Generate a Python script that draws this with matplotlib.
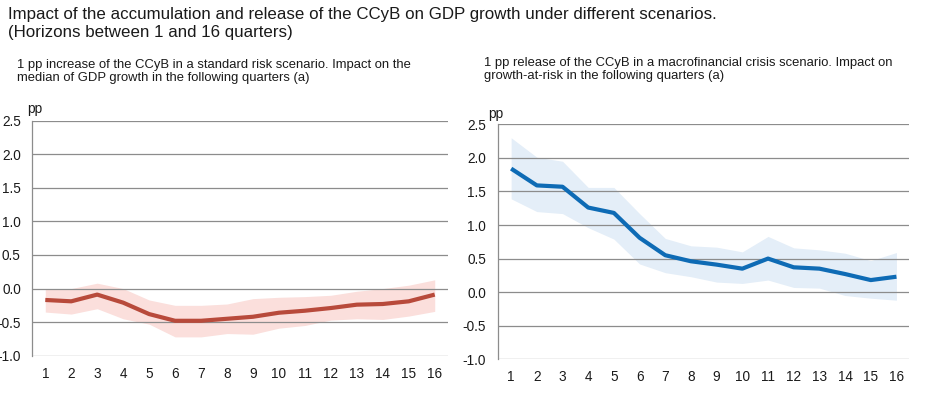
import matplotlib
matplotlib.use("Agg")
import matplotlib.pyplot as plt

plt.rcParams['font.family'] = ['Liberation Sans', 'DejaVu Sans']

# horizons (quarters)
quarters = list(range(1, 16 + 1))

# left panel: 1 pp increase, standard risk scenario (median GDP growth)
std_median = [-0.17, -0.19, -0.09, -0.21, -0.38, -0.48, -0.48, -0.45,
              -0.42, -0.36, -0.33, -0.29, -0.24, -0.23, -0.19, -0.09]
std_upper = [0.00, 0.00, 0.08, 0.00, -0.17, -0.25, -0.25, -0.23,
             -0.15, -0.13, -0.12, -0.10, -0.04, 0.00, 0.05, 0.13]
std_lower = [-0.35, -0.38, -0.30, -0.45, -0.53, -0.72, -0.72, -0.67,
             -0.68, -0.59, -0.55, -0.47, -0.45, -0.46, -0.41, -0.34]

# right panel: 1 pp release, macrofinancial crisis scenario (growth-at-risk)
crisis_gar = [1.84, 1.59, 1.57, 1.26, 1.18, 0.81, 0.55, 0.46,
              0.41, 0.35, 0.50, 0.37, 0.35, 0.27, 0.18, 0.23]
crisis_upper = [2.30, 2.01, 1.95, 1.56, 1.56, 1.17, 0.80, 0.69,
                0.67, 0.60, 0.83, 0.66, 0.63, 0.58, 0.47, 0.59]
crisis_lower = [1.39, 1.20, 1.17, 0.96, 0.79, 0.42, 0.29, 0.23,
                0.15, 0.13, 0.18, 0.07, 0.06, -0.05, -0.09, -0.12]

y_ticks = [-1.0, -0.5, 0.0, 0.5, 1.0, 1.5, 2.0, 2.5]

title = ("Impact of the accumulation and release of the CCyB on GDP growth under different scenarios.\n"
         "(Horizons between 1 and 16 quarters)")
sub_left = ("1 pp increase of the CCyB in a standard risk scenario. Impact on the\n"
            "median of GDP growth in the following quarters (a)")
sub_right = ("1 pp release of the CCyB in a macrofinancial crisis scenario. Impact on\n"
             "growth-at-risk in the following quarters (a)")

W, H = 933, 396
fig = plt.figure(figsize=(W / 100, H / 100), dpi=100)


def px_axes(x0, y0, x1, y1):
    # pixel box (top-left origin) -> figure axes
    return fig.add_axes([x0 / W, 1 - y1 / H, (x1 - x0) / W, (y1 - y0) / H])


def style_panel(ax, ypad):
    ax.set_xlim(0.5, 16.5)
    ax.set_ylim(-1.0, 2.5)
    ax.set_yticks(y_ticks)
    ax.set_yticklabels([f"{v:.1f}" for v in y_ticks])
    ax.set_xticks(quarters)
    ax.grid(axis='y', color='#8c8c8c', linewidth=0.9, zorder=2)
    ax.set_axisbelow(False)
    for s in ['top', 'right', 'bottom']:
        ax.spines[s].set_visible(False)
    ax.spines['left'].set_color('#8c8c8c')
    ax.spines['left'].set_linewidth(0.9)
    ax.tick_params(axis='both', length=0, labelsize=9.8, colors='#1a1a1a')
    ax.tick_params(axis='y', pad=ypad)
    ax.tick_params(axis='x', pad=8)


ax1 = px_axes(32.3, 120.7, 447.7, 355.7)
ax1.fill_between(quarters, std_lower, std_upper, color='#fbdfdc', linewidth=0, zorder=1)
ax1.plot(quarters, std_median, color='#b84a3b', linewidth=3, zorder=3, solid_capstyle='butt')
style_panel(ax1, 8.3)

ax2 = px_axes(498.3, 124.3, 909.3, 359.3)
ax2.fill_between(quarters, crisis_lower, crisis_upper, color='#e4eef8', linewidth=0, zorder=1)
ax2.plot(quarters, crisis_gar, color='#0e6bb5', linewidth=3, zorder=3, solid_capstyle='butt')
style_panel(ax2, 8.8)

fig.text(8 / W, 1 - 7 / H, title, fontsize=12.2, va='top', ha='left',
         color='#1a1a1a', linespacing=1.25)
fig.text(17 / W, 1 - 59 / H, sub_left, fontsize=9.4, va='top', ha='left',
         color='#1a1a1a', linespacing=1.15)
fig.text(484 / W, 1 - 57 / H, sub_right, fontsize=9.4, va='top', ha='left',
         color='#1a1a1a', linespacing=1.15)
fig.text(27 / W, 1 - 109 / H, "pp", fontsize=9.8, va='center', ha='left', color='#1a1a1a')
fig.text(488 / W, 1 - 114 / H, "pp", fontsize=9.8, va='center', ha='left', color='#1a1a1a')

fig.savefig("out.png", dpi=100)
